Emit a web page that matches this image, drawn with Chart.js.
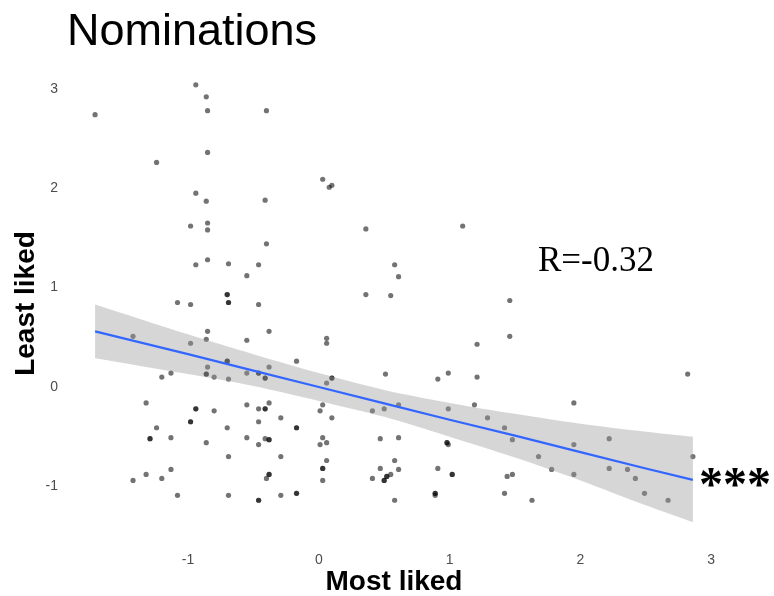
<!DOCTYPE html>
<html>
<head>
<meta charset="utf-8">
<script src="https://cdn.jsdelivr.net/npm/chart.js@4.4.1/dist/chart.umd.min.js"></script>
<style>
  html, body { margin: 0; padding: 0; background: #ffffff; }
  #wrap { width: 774px; height: 596px; position: relative; }
</style>
</head>
<body>
<div id="wrap"><canvas id="c" width="774" height="596"></canvas></div>
<script>
// ---- data ----
const chartTitle = "Nominations";
const xLabel = "Most liked";
const yLabel = "Least liked";
const corrText = "R=-0.32";
const sigText = "***";
const xTicks = [-1, 0, 1, 2, 3];
const yTicks = [-1, 0, 1, 2, 3];

const mostLiked = [
  -0.94,-0.86,-0.85,-1.71,-0.85,-1.24,-0.94,-0.86,-0.98,-0.85,-0.85,
  -0.40,0.03,0.10,0.08,-0.41,0.36,1.10,
  -0.94,-0.85,-0.69,-0.46,-0.55,-0.70,-0.70,-0.69,-0.69,-1.08,-0.98,-0.46,-0.85,-1.42,-0.86,-0.98,-0.55,-0.70,-0.70,-0.85,-0.86,-0.86,-0.80,-0.69,-0.55,-0.46,-0.46,-1.13,-1.20,
  -0.40,0.58,0.61,0.36,0.55,-0.38,0.06,0.06,-0.17,-0.38,-0.41,-0.41,0.10,0.10,0.51,0.91,0.99,
  1.46,1.46,1.21,1.21,2.82,
  -1.32,-0.94,-0.94,-0.80,-0.55,-0.46,-0.98,-0.98,-0.46,-1.24,-0.70,-1.29,-1.29,-1.13,-0.86,-0.55,-0.46,-0.69,-1.13,-1.32,-1.20,-1.42,-1.08,-0.69,-0.46,-0.46,
  0.06,-0.38,-0.41,-0.41,0.03,0.01,0.41,0.50,0.61,-0.29,0.10,-0.17,-0.17,-0.41,-0.38,-0.38,0.03,0.06,0.01,0.47,0.61,0.98,0.98,0.99,-0.29,0.06,0.58,0.03,0.03,0.47,0.61,0.91,-0.38,-0.38,-0.40,0.03,0.41,0.52,0.52,0.50,0.50,0.55,-0.29,-0.17,-0.17,0.58,0.89,0.89,0.89,
  0.99,1.19,1.95,1.29,1.42,1.48,1.95,2.22,1.68,2.86,1.78,1.95,2.22,2.36,2.42,1.02,1.02,1.44,1.48,1.42,1.63,2.49,2.67
];
const leastLiked = [
  3.04,2.92,2.78,2.74,2.36,2.26,1.95,1.87,1.62,1.65,1.58,
  2.78,2.09,2.03,2.01,1.88,1.59,1.62,
  1.23,1.28,1.24,1.23,1.12,0.93,0.93,0.85,0.85,0.85,0.83,0.83,0.56,0.51,0.48,0.44,0.47,0.26,0.26,0.20,0.13,0.13,0.10,0.08,0.14,0.14,0.14,0.14,0.10,
  1.44,1.23,1.11,0.93,0.92,0.56,0.49,0.44,0.26,0.20,0.09,0.09,0.09,0.09,0.13,0.08,0.14,
  0.87,0.51,0.43,0.10,0.13,
  -0.16,-0.22,-0.22,-0.24,-0.18,-0.22,-0.35,-0.35,-0.35,-0.41,-0.41,-0.52,-0.52,-0.51,-0.56,-0.51,-0.58,-0.70,-0.83,-0.88,-0.92,-0.94,-1.09,-1.09,-1.14,-1.14,
  0.04,-0.16,-0.22,-0.22,-0.18,-0.24,-0.24,-0.22,-0.18,-0.31,-0.31,-0.41,-0.41,-0.52,-0.53,-0.53,-0.51,-0.56,-0.58,-0.52,-0.51,-0.56,-0.56,-0.58,-0.70,-0.74,-0.74,-0.82,-0.82,-0.82,-0.83,-0.82,-0.88,-0.88,-0.92,-0.94,-0.92,-0.90,-0.90,-0.94,-0.94,-0.88,-1.09,-1.07,-1.07,-1.14,-1.07,-1.07,-1.09,
  -0.22,-0.18,-0.16,-0.31,-0.41,-0.53,-0.58,-0.52,-0.70,-0.70,-0.83,-0.88,-0.82,-0.83,-0.92,-0.88,-0.88,-0.90,-0.88,-1.07,-1.14,-1.07,-1.14
];

// regression line and its confidence band, read at several x positions
const fitX     = [-1.71, -1.0, -0.5, 0.0, 0.5, 1.0, 1.5, 2.0, 2.5, 2.86];
const fitY     = [0.56, 0.33, 0.165, 0.0, -0.165, -0.33, -0.49, -0.655, -0.82, -0.935];
const fitUpper = [0.83, 0.53, 0.33, 0.14, -0.03, -0.16, -0.27, -0.37, -0.45, -0.50];
const fitLower = [0.29, 0.13, 0.01, -0.14, -0.30, -0.50, -0.71, -0.94, -1.19, -1.36];

// ---- build chart ----
const pts = mostLiked.map((x, i) => ({ x: x, y: leastLiked[i] }));
const toXY = (ys) => fitX.map((x, i) => ({ x: x, y: ys[i] }));

const textPlugin = {
  id: 'textPlugin',
  afterDraw(chart) {
    const ctx = chart.ctx;
    ctx.save();
    ctx.fillStyle = '#000000';
    ctx.textAlign = 'left';
    ctx.textBaseline = 'alphabetic';
    ctx.font = '45px "Liberation Sans", Arial, sans-serif';
    ctx.fillText(chartTitle, 67, 45);
    ctx.font = '35px "Liberation Serif", "Times New Roman", serif';
    ctx.fillText(corrText, 538, 271);
    ctx.font = 'bold 48px "Liberation Serif", "Times New Roman", serif';
    ctx.fillText(sigText, 699, 500);
    ctx.restore();
  }
};

new Chart(document.getElementById('c'), {
  type: 'scatter',
  data: {
    datasets: [
      {
        label: 'fit',
        type: 'line',
        data: toXY(fitY),
        borderColor: '#3366FF',
        borderWidth: 2.2,
        pointRadius: 0,
        fill: false,
        tension: 0,
        order: 0
      },
      {
        label: 'upper',
        type: 'line',
        data: toXY(fitUpper),
        borderWidth: 0,
        borderColor: 'rgba(0,0,0,0)',
        backgroundColor: 'rgba(153,153,153,0.4)',
        pointRadius: 0,
        fill: '+1',
        tension: 0.3,
        order: 1
      },
      {
        label: 'lower',
        type: 'line',
        data: toXY(fitLower),
        borderWidth: 0,
        borderColor: 'rgba(0,0,0,0)',
        pointRadius: 0,
        fill: false,
        tension: 0.3,
        order: 1
      },
      {
        label: 'points',
        data: pts,
        backgroundColor: 'rgba(0,0,0,0.55)',
        borderWidth: 0,
        pointRadius: 2.6,
        order: 2
      }
    ]
  },
  options: {
    responsive: false,
    animation: false,
    events: [],
    layout: { padding: { top: 63, right: 51, bottom: 0, left: 0 } },
    plugins: {
      legend: { display: false },
      tooltip: { enabled: false },
      title: { display: false }
    },
    scales: {
      x: {
        type: 'linear',
        min: -1.94,
        max: 3.09,
        grid: { display: false, drawTicks: false },
        border: { display: false },
        afterBuildTicks: (s) => { s.ticks = xTicks.map(v => ({ value: v })); },
        afterFit: (s) => { s.height = 52; },
        ticks: {
          color: '#4d4d4d',
          font: { family: '"Liberation Sans", Arial, sans-serif', size: 14 },
          padding: 8,
          maxRotation: 0,
          callback: (v) => String(v)
        },
        title: {
          display: true,
          text: xLabel,
          color: '#000000',
          font: { family: '"Liberation Sans", Arial, sans-serif', size: 28, weight: 'bold', lineHeight: 1 },
          padding: { top: 0, bottom: 0 }
        }
      },
      y: {
        type: 'linear',
        min: -1.58,
        max: 3.26,
        grid: { display: false, drawTicks: false },
        border: { display: false },
        afterBuildTicks: (s) => { s.ticks = yTicks.map(v => ({ value: v })); },
        afterFit: (s) => { s.width = 65; },
        ticks: {
          color: '#4d4d4d',
          font: { family: '"Liberation Sans", Arial, sans-serif', size: 14 },
          padding: 7,
          callback: (v) => String(v)
        },
        title: {
          display: true,
          text: yLabel,
          color: '#000000',
          font: { family: '"Liberation Sans", Arial, sans-serif', size: 28, weight: 'bold', lineHeight: 1 },
          padding: { top: 12, bottom: 0 }
        }
      }
    }
  },
  plugins: [textPlugin]
});
</script>
</body>
</html>
